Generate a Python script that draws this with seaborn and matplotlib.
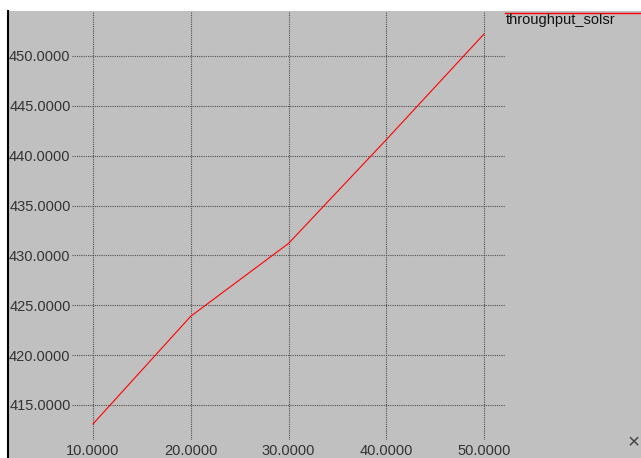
import matplotlib
matplotlib.use("Agg")
import matplotlib.pyplot as plt
import seaborn as sns
import pandas as pd
from matplotlib.lines import Line2D
from matplotlib.patches import Rectangle

x_vals = [10, 20, 30, 40, 50]
throughput_solsr = [413.1, 423.9, 431.2, 441.6, 452.2]
series_name = "throughput_solsr"
x_ticks = [10, 20, 30, 40, 50]
y_ticks = [415, 420, 425, 430, 435, 440, 445, 450]

plt.rcParams["font.family"] = ["Liberation Sans", "DejaVu Sans"]

W, H = 641, 458
bg = "#c0c0c0"
fig = plt.figure(figsize=(W / 100, H / 100), dpi=100, facecolor=bg)

# white margins at top and left, black left border
fig.patches.append(Rectangle((0, (H - 11) / H), 1, 11 / H, transform=fig.transFigure,
                             facecolor="white", edgecolor="none", zorder=0))
fig.patches.append(Rectangle((0, 0), 7 / W, 1, transform=fig.transFigure,
                             facecolor="white", edgecolor="none", zorder=0))
fig.lines.append(Line2D([7.5 / W, 7.5 / W], [0, (H - 11) / H], transform=fig.transFigure,
                        color="black", lw=1.5))

left, right, top, bottom = 72, 505, 11, 440
ax = fig.add_axes([left / W, (H - bottom) / H, (right - left) / W, (bottom - top) / H])
ax.set_facecolor(bg)
ax.patch.set_alpha(0)

df = pd.DataFrame({"x": x_vals, "y": throughput_solsr})
sns.lineplot(data=df, x="x", y="y", ax=ax, color="#ff0000", lw=0.8, legend=False)

ax.set_xlim(7.85, 52.15)
ax.set_ylim(411.49, 454.51)
ax.set_xticks(x_ticks)
ax.set_yticks(y_ticks)
ax.set_xticklabels([f"{v:.4f}" for v in x_ticks])
ax.set_yticklabels([f"{v:.4f}" for v in y_ticks])
ax.tick_params(length=0, labelsize=10.5, labelcolor="#333333")
ax.tick_params(axis="y", pad=1)
ax.tick_params(axis="x", pad=3)
ax.grid(True, color="#505050", linestyle=(0, (1, 1)), lw=0.8)
ax.set_axisbelow(True)
for s in ax.spines.values():
    s.set_visible(False)
ax.set_xlabel("")
ax.set_ylabel("")

# legend
fig.lines.append(Line2D([505 / W, 1], [(H - 13) / H, (H - 13) / H], transform=fig.transFigure,
                        color="#ff0000", lw=1))
fig.text(506 / W, (H - 20) / H, series_name, fontsize=10.5, color="#111111",
         ha="left", va="center")
fig.text(634 / W, (H - 443) / H, "\u00d7", fontsize=15, color="#444444", ha="center", va="center")

fig.savefig("out.png", dpi=100, facecolor=bg)
